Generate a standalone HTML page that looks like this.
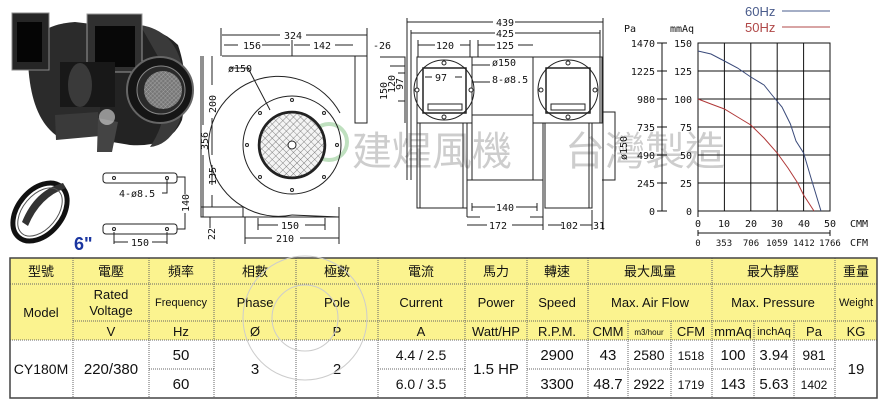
<!DOCTYPE html>
<html><head><meta charset="utf-8"><style>
html,body{margin:0;padding:0;background:#fff;}
svg{display:block;}
text{font-family:"Liberation Sans","Noto Sans CJK TC",sans-serif;}
.d{font-family:"DejaVu Sans Mono","Liberation Mono",monospace;font-size:10px;fill:#111;}
.c{font-family:"DejaVu Sans Mono","Liberation Mono",monospace;font-size:10px;fill:#111;}
</style></head><body>
<svg width="890" height="406" viewBox="0 0 890 406" xmlns="http://www.w3.org/2000/svg">
<defs>
<pattern id="mesh" width="5" height="5" patternUnits="userSpaceOnUse" patternTransform="rotate(45)">
<rect width="5" height="5" fill="#f4f4f4"/><path d="M0 0H5M0 0V5" stroke="#666" stroke-width="0.8"/>
</pattern>
<pattern id="pm" width="3" height="3" patternUnits="userSpaceOnUse" patternTransform="rotate(45)">
<rect width="3" height="3" fill="#777"/><path d="M0 0H3M0 0V3" stroke="#bbb" stroke-width="0.6"/>
</pattern>
</defs>
<!-- watermark -->
<g fill="#cdcdcd">
<text x="352" y="165" font-size="40" font-family="'Noto Sans CJK TC',sans-serif">建煋風機</text>
<text x="565" y="165" font-size="40" font-family="'Noto Sans CJK TC',sans-serif">台灣製造</text>
</g>
<circle cx="329" cy="142" r="18" fill="none" stroke="#bfe0bf" stroke-width="4"/>

<!-- photo -->
<g>
<path d="M28 60 Q30 25 75 22 L100 25 L100 135 L60 138 Q30 120 28 60Z" fill="#2b2b2b"/>
<path d="M100 28 Q150 18 178 45 Q190 80 182 120 Q170 148 130 145 L100 140Z" fill="#232323"/>
<path d="M140 25 Q175 30 183 70 L180 120 Q170 145 150 147 Q175 110 160 60 Z" fill="#3a3a3a"/>
<rect x="12" y="13" width="37" height="57" fill="#262626" stroke="#888"/>
<rect x="17" y="22" width="25" height="40" fill="#050505"/>
<rect x="87" y="14" width="55" height="58" fill="#303030" stroke="#999"/>
<rect x="95" y="26" width="40" height="41" fill="#080808"/>
<rect x="60" y="62" width="55" height="45" fill="#181818"/>
<ellipse cx="80" cy="85" rx="12" ry="22" fill="#3a3a3a"/>
<path d="M55 115 L98 112 L100 136 L56 140Z" fill="#3a3a3a"/>
<path d="M98 118 L118 122 L112 152 L97 152Z" fill="#444"/>
<circle cx="160" cy="90" r="33" fill="#151515" stroke="#666" stroke-width="2"/>
<circle cx="161" cy="90" r="24" fill="#2a2a2a" stroke="#888"/>
<circle cx="163" cy="90" r="19" fill="url(#pm)"/>
<circle cx="107" cy="117" r="8" fill="#ddd" opacity="0.6"/>
</g>
<!-- ring photo -->
<ellipse cx="40" cy="212" rx="22" ry="33" fill="none" stroke="#111" stroke-width="5" transform="rotate(40 40 212)"/>
<path d="M22 222 Q35 190 63 183 L66 188 Q40 197 28 226Z" fill="#333"/>
<ellipse cx="40" cy="212" rx="17" ry="28" fill="none" stroke="#555" stroke-width="1" transform="rotate(40 40 212)"/>
<!-- bracket drawing -->
<g stroke="#222" fill="none" stroke-width="1">
<rect x="103" y="173" width="74" height="10" rx="3"/>
<rect x="103" y="224" width="74" height="10" rx="3"/>
<circle cx="114" cy="178" r="1.5"/><circle cx="167" cy="178" r="1.5"/>
<circle cx="114" cy="229" r="1.5"/><circle cx="167" cy="229" r="1.5"/>
<path d="M167 180 L167 193 L162 193"/>
<path d="M177 177 L185 177 L185 194 M185 213 L185 229 L177 229"/>
<path d="M114 232 L114 244 M167 232 L167 244 M114 242 L128 242 M152 242 L167 242"/>
</g>
<text class="d" x="119" y="197">4-ø8.5</text>
<text class="d" transform="translate(189 212) rotate(-90)">140</text>
<text class="d" x="131" y="246">150</text>
<text x="74" y="250" font-size="18" font-weight="bold" fill="#1a35a0">6"</text>

<!-- side view -->
<g stroke="#222" fill="none" stroke-width="1">
<path d="M222 56 L355 56 L355 123 L367 123 L367 56"/>
<path d="M355 56 L367 56"/>
<path d="M340 113 A70 70 0 1 0 292 215"/>
<path d="M292 215 L339 217 L339 207"/>
<path d="M201 56 L201 217 L243 217 L243 207 L201 207"/>
<path d="M243 217 L339 217"/>
<circle cx="292" cy="145" r="49"/>
<circle cx="292" cy="145" r="32" fill="url(#mesh)"/>
<circle cx="292" cy="145" r="33" stroke-width="2.5"/>
<circle cx="292" cy="145" r="4" fill="#fff"/>
<path d="M221 28 L221 56 M367 28 L367 56 M292 40 L292 56"/>
<path d="M222 35 L280 35 M306 35 L367 35"/>
<path d="M224 45 L238 45 M262 45 L290 45 M294 45 L310 45 M335 45 L353 45"/>
<path d="M212 56 L212 85 M212 118 L212 155 M212 165 L212 185 M212 195 L212 207"/>
<path d="M203 56 L203 125 M203 155 L203 217"/>
<path d="M230 68 L248 68 L270 110"/>
<path d="M258 225 L278 225 M305 225 L325 225 M258 218 L258 230 M325 218 L325 230"/>
<path d="M245 238 L272 238 M300 238 L339 238 M245 217 L245 244 M339 217 L339 244"/>
<path d="M210 217 L210 228"/>
</g>
<g fill="#fff" stroke="#222"><circle cx="292" cy="100" r="1.5"/><circle cx="292" cy="190" r="1.5"/><circle cx="247" cy="145" r="1.5"/><circle cx="337" cy="145" r="1.5"/><circle cx="260" cy="113" r="1.5"/><circle cx="324" cy="113" r="1.5"/><circle cx="260" cy="177" r="1.5"/><circle cx="324" cy="177" r="1.5"/></g>
<text class="d" x="284" y="39">324</text>
<text class="d" x="243" y="49">156</text>
<text class="d" x="313" y="49">142</text>
<text class="d" x="373" y="49">-26</text>
<text class="d" x="228" y="72">ø150</text>
<text class="d" transform="translate(208 150) rotate(-90)">356</text>
<text class="d" transform="translate(216 113) rotate(-90)">200</text>
<text class="d" transform="translate(216 185) rotate(-90)">135</text>
<text class="d" transform="translate(215 240) rotate(-90)">22</text>
<text class="d" x="281" y="229">150</text>
<text class="d" x="276" y="242">210</text>

<!-- front view dims left -->
<g stroke="#222" fill="none">
<path d="M380 57 L405 57 L405 123 M390 66 L405 66 M398 73 L405 73 M398 101 L405 101"/>
</g>
<text class="d" transform="translate(387 100) rotate(-90)">150</text>
<text class="d" transform="translate(395 93) rotate(-90)">120</text>
<text class="d" transform="translate(403 90) rotate(-90)">97</text>

<!-- front view -->
<g stroke="#222" fill="none" stroke-width="1">
<rect x="417" y="57" width="55" height="66" fill="#fff"/>
<rect x="533" y="57" width="69" height="66" fill="#fff"/>
<rect x="472" y="57" width="61" height="58"/>
<circle cx="444" cy="90" r="30"/>
<circle cx="568" cy="90" r="30"/>
<path d="M423 113 L423 68 L466 68 L466 113 Z" stroke-width="1.5"/>
<path d="M546 113 L546 68 L590 68 L590 113 Z" stroke-width="1.5"/>
<rect x="428" y="104" width="34" height="6"/>
<rect x="551" y="104" width="34" height="6"/>
<path d="M417 123 L417 208 L467 208 M463 123 L463 208"/>
<path d="M420 123 L420 208"/>
<path d="M545 123 L545 208 L592 208 L592 123 M589 123 L589 208"/>
<path d="M467 123 L467 217 M472 123 L472 180 L533 180 L533 123 M543 123 L543 217"/>
<path d="M467 180 L543 180"/>
<path d="M467 217 L480 217 M530 217 L543 217"/>
<path d="M407 18 L407 180 M603 18 L603 230 M411 30 L411 180 M600 30 L600 123"/>
<path d="M407 22 L493 22 M515 22 L603 22 M411 33 L495 33 M515 33 L600 33"/>
<path d="M418 45 L435 45 M460 45 L470 45 M418 40 L418 57 M470 40 L470 57 M478 45 L495 45 M518 45 L533 45 M478 40 L478 57"/>
<path d="M425 77 L432 77 M455 77 L462 77"/>
<path d="M472 207 L495 207 M516 207 L537 207 M472 203 L472 211 M537 203 L537 211"/>
<path d="M467 225 L487 225 M512 225 L543 225 M543 217 L543 230 M548 225 L562 225 M580 225 L592 225 M592 210 L592 230"/>
<path d="M602 112 L615 112 L615 180 L602 180"/>
<path d="M472 65 L490 65 M473 82 L490 82"/>
</g>
<g fill="#fff" stroke="#222"><circle cx="444" cy="63" r="2"/><circle cx="444" cy="117" r="2"/><circle cx="417" cy="90" r="2"/><circle cx="471" cy="90" r="2"/>
<circle cx="568" cy="63" r="2"/><circle cx="568" cy="117" r="2"/><circle cx="541" cy="90" r="2"/><circle cx="595" cy="90" r="2"/></g>
<text class="d" x="496" y="26">439</text>
<text class="d" x="496" y="37">425</text>
<text class="d" x="436" y="49">120</text>
<text class="d" x="496" y="49">125</text>
<text class="d" x="435" y="81">97</text>
<text class="d" x="492" y="66">ø150</text>
<text class="d" x="492" y="83">8-ø8.5</text>
<text class="d" x="496" y="211">140</text>
<text class="d" x="489" y="229">172</text>
<text class="d" x="560" y="229">102</text>
<text class="d" x="593" y="229">31</text>
<text class="d" transform="translate(627 160) rotate(-90)">ø150</text>

<!-- chart -->
<g stroke="#111" stroke-width="1" fill="none">
<rect x="698" y="43" width="132" height="168"/>
<path d="M724.4 43V211 M750.8 43V211 M777.2 43V211 M803.6 43V211"/>
<path d="M698 71H830 M698 99H830 M698 127H830 M698 155H830 M698 183H830"/>
<path d="M662 43V211 M657 43H667 M657 71H667 M657 99H667 M657 127H667 M657 155H667 M657 183H667 M657 211H667"/>
<path d="M698 211V217 M698 230V236 M698 233H830 M830 230V236"/>
<path d="M782 11H830" stroke="#4a5c8c"/>
<path d="M782 27H830" stroke="#b04848"/>
<polyline stroke="#3a4a7a" points="698,51 711,54 724.4,61 737.6,68 750.8,77 764,85 772,95 782,107 790.4,124 796,141 803.6,153 811,178 821,211"/>
<polyline stroke="#b03838" points="698,99 711,104 724.4,109 737.6,117 750.8,125 764,138 777.2,153 788,168 797.7,183 803.6,195 814,211"/>
</g>
<text x="745" y="16" font-size="13" fill="#4a5c8c">60Hz</text>
<text x="745" y="32" font-size="13" fill="#b04848">50Hz</text>
<g>
<text x="624" y="32" class="c">Pa</text>
<text x="670" y="32" class="c">mmAq</text>
<g text-anchor="end">
<text x="655" y="47" class="c">1470</text><text x="655" y="75" class="c">1225</text><text x="655" y="103" class="c">980</text><text x="655" y="131" class="c">735</text><text x="655" y="159" class="c">490</text><text x="655" y="187" class="c">245</text><text x="655" y="215" class="c">0</text>
<text x="692" y="47" class="c">150</text><text x="692" y="75" class="c">125</text><text x="692" y="103" class="c">100</text><text x="692" y="131" class="c">75</text><text x="692" y="159" class="c">50</text><text x="692" y="187" class="c">25</text><text x="692" y="215" class="c">0</text>
</g>
<g text-anchor="middle">
<text x="698" y="227" class="c">0</text><text x="724" y="227" class="c">10</text><text x="751" y="227" class="c">20</text><text x="777" y="227" class="c">30</text><text x="804" y="227" class="c">40</text><text x="830" y="227" class="c">50</text>
<text x="698" y="246" class="c" font-size="9" style="font-size:9px">0</text><text x="724" y="246" class="c" style="font-size:9px">353</text><text x="751" y="246" class="c" style="font-size:9px">706</text><text x="777" y="246" class="c" style="font-size:9px">1059</text><text x="804" y="246" class="c" style="font-size:9px">1412</text><text x="830" y="246" class="c" style="font-size:9px">1766</text>
</g>
<text x="850" y="227" class="c">CMM</text>
<text x="850" y="246" class="c">CFM</text>
</g>

<!-- table -->
<rect x="10" y="258" width="867" height="82" fill="#fbf38f"/>
<rect x="10" y="340" width="867" height="58" fill="#fff"/>
<g stroke="#666" stroke-dasharray="1 1" fill="none">
<path d="M10 284H877 M73 321H877 M10 340H877"/>
<path d="M149 369H214 M378 369H465 M527 369H835"/>
<path d="M73 258V398 M149 258V398 M214 258V398 M296 258V398 M378 258V398 M465 258V398 M527 258V398 M588 258V398 M712 258V398 M835 258V398"/>
<path d="M628 321V398 M671 321V398 M754 321V398 M794 321V398"/>
</g>
<path d="M10 258H877V398H10Z" stroke="#444" stroke-width="1.5" fill="none"/>
<g font-size="13" fill="#111" text-anchor="middle">
<text x="41" y="276">型號</text><text x="111" y="276">電壓</text><text x="181" y="276">頻率</text><text x="255" y="276">相數</text><text x="337" y="276">極數</text><text x="421" y="276">電流</text><text x="496" y="276">馬力</text><text x="557" y="276">轉速</text><text x="650" y="276">最大風量</text><text x="773" y="276">最大靜壓</text><text x="856" y="276">重量</text>
<text x="41" y="317">Model</text>
<text x="111" y="299">Rated</text><text x="111" y="315">Voltage</text>
<text x="181" y="306" font-size="11">Frequency</text>
<text x="255" y="307">Phase</text><text x="337" y="307">Pole</text><text x="421" y="307">Current</text><text x="496" y="307">Power</text><text x="557" y="307">Speed</text><text x="650" y="307">Max. Air Flow</text><text x="773" y="307">Max. Pressure</text><text x="856" y="306" font-size="11">Weight</text>
<text x="111" y="336">V</text><text x="181" y="336">Hz</text><text x="255" y="336">Ø</text><text x="337" y="336">P</text><text x="421" y="336">A</text><text x="496" y="336">Watt/HP</text><text x="557" y="336">R.P.M.</text>
<text x="608" y="336">CMM</text><text x="649" y="335" font-size="8">m3/hour</text><text x="691" y="336">CFM</text><text x="733" y="336">mmAq</text><text x="774" y="335" font-size="11">inchAq</text><text x="814" y="336">Pa</text><text x="856" y="336">KG</text>
<text x="41" y="374" font-size="14">CY180M</text><text x="111" y="374" font-size="15">220/380</text>
<text x="181" y="360" font-size="15">50</text><text x="181" y="389" font-size="15">60</text>
<text x="255" y="374" font-size="15">3</text><text x="337" y="374" font-size="15">2</text>
<text x="421" y="360" font-size="14">4.4 / 2.5</text><text x="421" y="389" font-size="14">6.0 / 3.5</text>
<text x="496" y="374" font-size="15">1.5 HP</text>
<text x="557" y="360" font-size="15">2900</text><text x="557" y="389" font-size="15">3300</text>
<text x="608" y="360" font-size="15">43</text><text x="608" y="389" font-size="15">48.7</text>
<text x="649" y="360" font-size="14">2580</text><text x="649" y="389" font-size="14">2922</text>
<text x="691" y="360" font-size="12">1518</text><text x="691" y="389" font-size="12">1719</text>
<text x="733" y="360" font-size="15">100</text><text x="733" y="389" font-size="15">143</text>
<text x="774" y="360" font-size="15">3.94</text><text x="774" y="389" font-size="15">5.63</text>
<text x="814" y="360" font-size="14">981</text><text x="814" y="389" font-size="12">1402</text>
<text x="856" y="374" font-size="15">19</text>
</g>
<circle cx="305" cy="318" r="62" fill="none" stroke="#ccc" stroke-width="1"/>
<circle cx="305" cy="318" r="33" fill="none" stroke="#ccc" stroke-width="1"/>
</svg>
</body></html>
